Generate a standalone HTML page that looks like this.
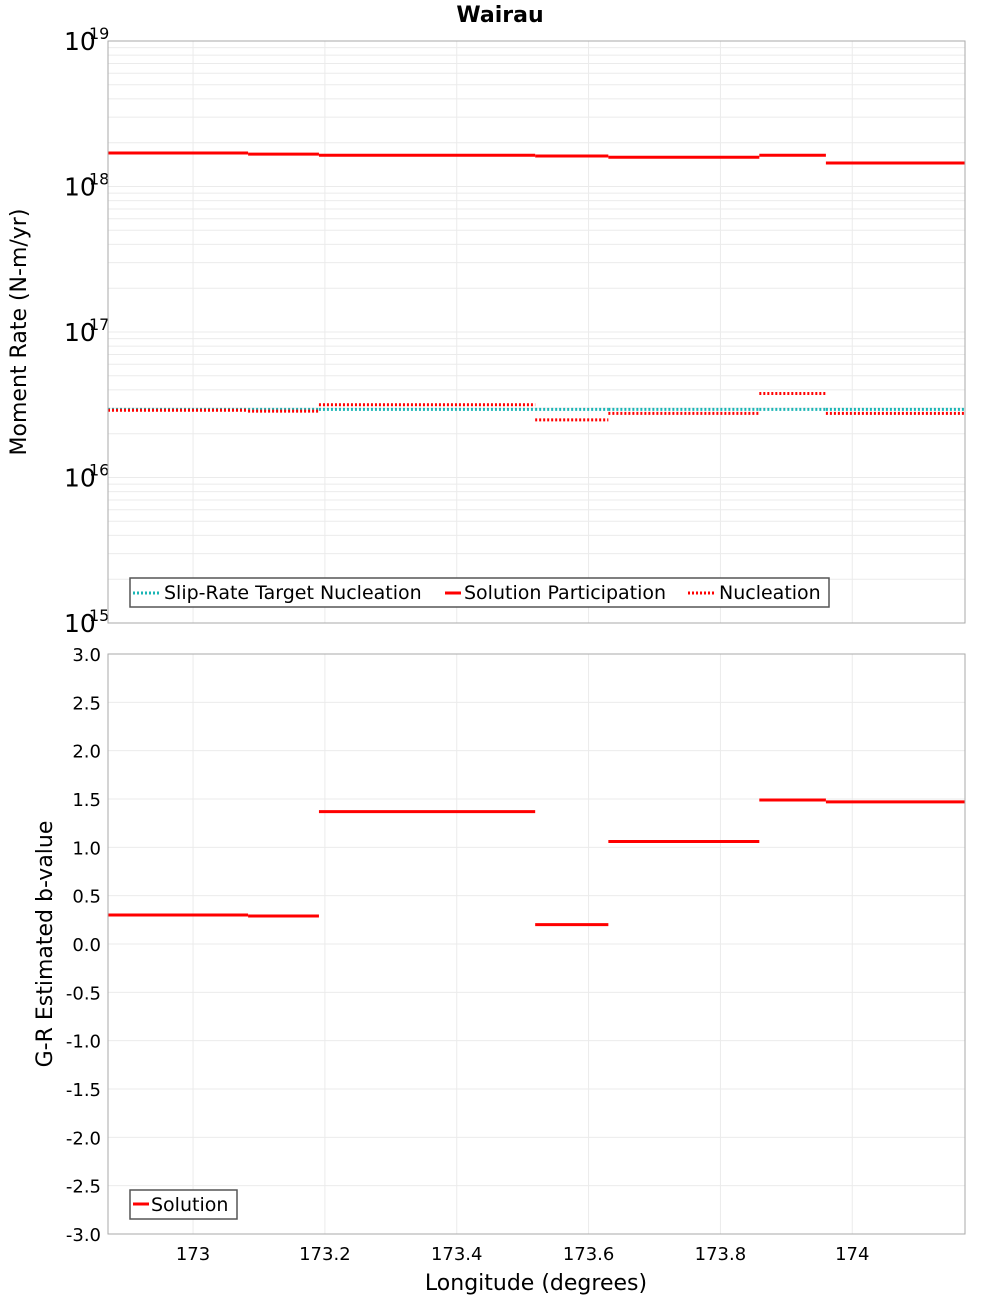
<!DOCTYPE html>
<html><head><meta charset="utf-8"><style>
body{margin:0;background:#fff;}
svg{display:block;font-family:"DejaVu Sans","Liberation Sans",sans-serif;}
</style></head><body>
<svg id="c" width="1000" height="1300" xmlns="http://www.w3.org/2000/svg">
<text x="500" y="22" text-anchor="middle" font-size="22" font-weight="bold">Wairau</text>
<g id="g1"></g>
<g id="g2"></g>
</svg>
<script>
const bounds = [172.871, 173.0835, 173.191, 173.519, 173.630, 173.859, 173.960, 174.171];
const participation = [1.70e18, 1.67e18, 1.64e18, 1.62e18, 1.59e18, 1.64e18, 1.45e18];
const nucleation = [2.90e16, 2.86e16, 3.16e16, 2.49e16, 2.76e16, 3.78e16, 2.76e16];
const targetNucleation = [2.94e16, 2.94e16, 2.94e16, 2.94e16, 2.94e16, 2.94e16, 2.94e16];
const bValues = [0.30, 0.29, 1.37, 0.20, 1.06, 1.49, 1.47];
const xTicks = [173, 173.2, 173.4, 173.6, 173.8, 174];
const xTickLabels = ["173", "173.2", "173.4", "173.6", "173.8", "174"];
const logExps = [15, 16, 17, 18, 19];
const bTicks = [3.0,2.5,2.0,1.5,1.0,0.5,0.0,-0.5,-1.0,-1.5,-2.0,-2.5,-3.0];

const NS="http://www.w3.org/2000/svg";
const L=108,R=965;
const X0=172.871,X1=174.171;
const sx=v=>L+(v-X0)/(X1-X0)*(R-L);
const T1=41,B1=623,T2=654,B2=1234;
const sy1=v=>B1-(Math.log10(v)-15)/4*(B1-T1);
const sy2=v=>B2-(v+3)/6*(B2-T2);
function mk(p,tag,at,txt){const e=document.createElementNS(NS,tag);for(const k in at)e.setAttribute(k,at[k]);if(txt!==undefined)e.textContent=txt;p.appendChild(e);return e;}
const g1=document.getElementById('g1'),g2=document.getElementById('g2');

// panel 1 grid
for(let e=15;e<19;e++)for(let m=1;m<10;m++){const y=sy1(m*Math.pow(10,e));
 const l=mk(g1,'line',{x1:L,x2:R,y1:y,y2:y,stroke:'#ebebeb','stroke-width':1});
 
 }
xTicks.forEach(t=>{for(const [g,T,B] of [[g1,T1,B1],[g2,T2,B2]]){
 const l=mk(g,'line',{x1:sx(t),x2:sx(t),y1:T,y2:B,stroke:'#ebebeb','stroke-width':1});
 
 }});
bTicks.forEach(t=>{const y=sy2(t);
 const l=mk(g2,'line',{x1:L,x2:R,y1:y,y2:y,stroke:'#ebebeb','stroke-width':1});
 
 
 const tx=mk(g2,'text',{x:101,y:y+7,'text-anchor':'end','font-size':18},t.toFixed(1));
 
 });
logExps.forEach(e=>{const y=sy1(Math.pow(10,e));
 const t=mk(g1,'text',{x:64,y:y+9,'font-size':25},'10');
 
 
 const s=mk(g1,'text',{x:89,y:y-2,'font-size':16},String(e));
 
 });
xTicks.forEach((t,i)=>{const tx=mk(g2,'text',{x:sx(t),y:1260,'text-anchor':'middle','font-size':18},xTickLabels[i]);
 
 });

// series
function segs(g,arr,sy,style,name){arr.forEach((v,i)=>{
 const l=mk(g,'line',Object.assign({x1:sx(bounds[i]),x2:sx(bounds[i+1]),y1:sy(v),y2:sy(v)},style));
 
 });}
segs(g1,targetNucleation,sy1,{stroke:'#1ab5b5','stroke-width':3,'stroke-dasharray':'2 2'},'target-nucleation-segment');
segs(g1,participation,sy1,{stroke:'#ff0000','stroke-width':3},'participation-segment');
segs(g1,nucleation,sy1,{stroke:'#ff0000','stroke-width':3,'stroke-dasharray':'2 2'},'nucleation-segment');
segs(g2,bValues,sy2,{stroke:'#ff0000','stroke-width':3},'b-value-segment');

// frames
for(const [g,T,B] of [[g1,T1,B1],[g2,T2,B2]]){
 const r=mk(g,'rect',{x:L,y:T,width:R-L,height:B-T,fill:'none',stroke:'#aaa','stroke-width':1});
 
 }
</script>
<g></g>
<svg width="0" height="0"></svg>
<div style="position:absolute;left:0;top:0;width:1000px;height:1300px;pointer-events:none">
<svg width="1000" height="1300" style="position:absolute;left:0;top:0" xmlns="http://www.w3.org/2000/svg">
<text transform="translate(26,332) rotate(-90)" text-anchor="middle" font-size="22">Moment Rate (N-m/yr)</text>
<text transform="translate(52,944) rotate(-90)" text-anchor="middle" font-size="22">G-R Estimated b-value</text>
<text x="536" y="1290" text-anchor="middle" font-size="22">Longitude (degrees)</text>
<g>
<rect x="130" y="578" width="699" height="29" fill="#fff" stroke="#555" stroke-width="1.5"/>
<line x1="133" x2="160" y1="593" y2="593" stroke="#1ab5b5" stroke-width="3" stroke-dasharray="2 2"/>
<text x="164" y="599" font-size="19">Slip-Rate Target Nucleation</text>
<line x1="445" x2="461" y1="593" y2="593" stroke="#ff0000" stroke-width="3"/>
<text x="464" y="599" font-size="19">Solution Participation</text>
<line x1="688" x2="716" y1="593" y2="593" stroke="#ff0000" stroke-width="3" stroke-dasharray="2 2"/>
<text x="719" y="599" font-size="19">Nucleation</text>
</g>
<g>
<rect x="130" y="1190" width="107" height="29" fill="#fff" stroke="#555" stroke-width="1.5"/>
<line x1="133" x2="149" y1="1204" y2="1204" stroke="#ff0000" stroke-width="3"/>
<text x="151" y="1211" font-size="19">Solution</text>
</g>
</svg></div>
</body></html>
